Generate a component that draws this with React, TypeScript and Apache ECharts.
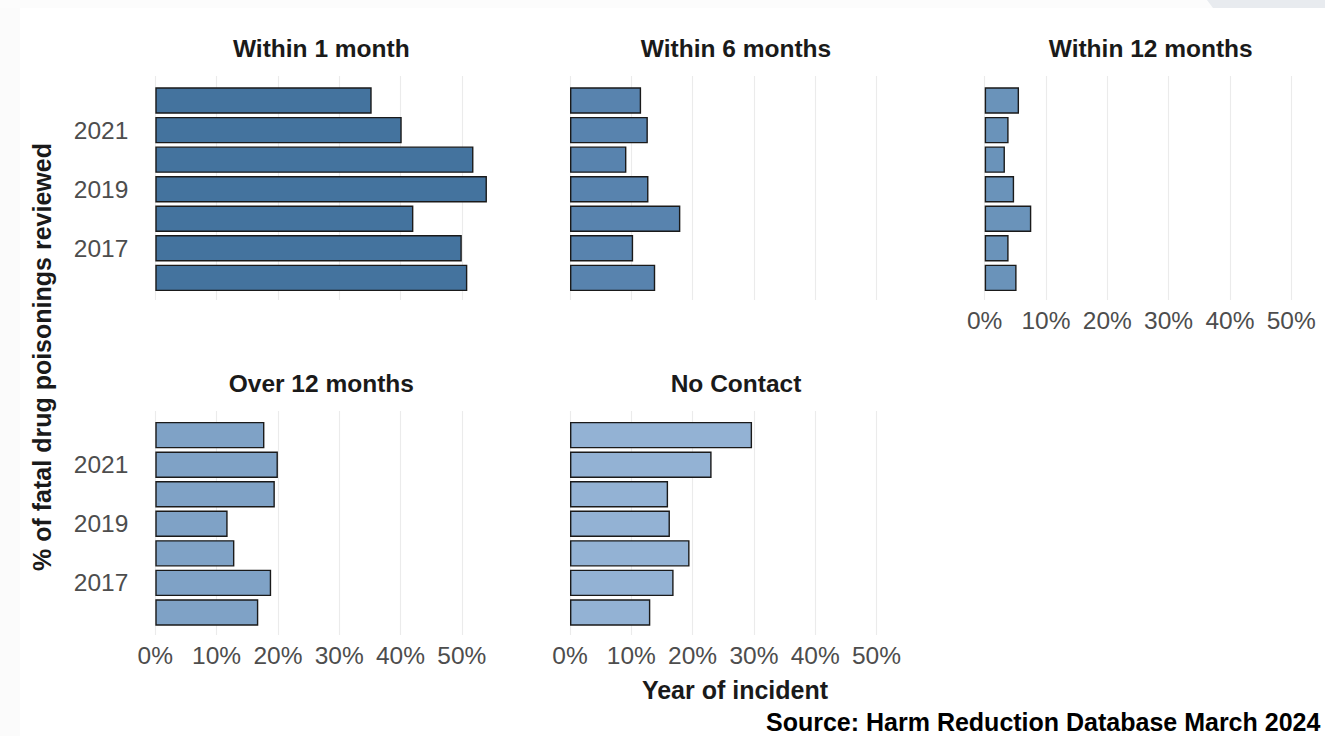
import React, { useEffect, useRef } from "react";
import * as echarts from "echarts";

const years = ["2016", "2017", "2018", "2019", "2020", "2021", "2022"];
const panelTitles = ["Within 1 month", "Within 6 months", "Within 12 months", "Over 12 months", "No Contact"];
const within1Month = [50.9, 50.0, 42.1, 54.1, 51.9, 40.2, 35.3];
const within6Months = [13.9, 10.3, 18.0, 12.8, 9.2, 12.7, 11.6];
const within12Months = [5.2, 3.9, 7.6, 4.8, 3.3, 3.9, 5.6];
const over12Months = [16.8, 18.9, 12.9, 11.8, 19.5, 20.0, 17.8];
const noContact = [13.1, 16.9, 19.5, 16.3, 16.0, 23.1, 29.7];
const panelValues = [within1Month, within6Months, within12Months, over12Months, noContact];
const panelColors = ["#44739E", "#5883AE", "#6A93BA", "#7FA2C6", "#93B2D4"];
const xTicks = [0, 10, 20, 30, 40, 50];

const FONT = "'Liberation Sans', Arial, Helvetica, sans-serif";

export default function App() {
  const ref = useRef<HTMLDivElement>(null);
  useEffect(() => {
    if (!ref.current) return;
    const chart = echarts.init(ref.current, null, { renderer: "svg" });
    const pxPerPct = 6.13;
    const grids: any[] = [];
    const xAxes: any[] = [];
    const yAxes: any[] = [];
    const series: any[] = [];
    const graphics: any[] = [
      { type: "rect", shape: { x: 0, y: 0, width: 20, height: 736 }, style: { fill: "#fbfbfb" }, silent: true, z: -10 },
      { type: "rect", shape: { x: 0, y: 0, width: 1325, height: 8 }, style: { fill: "#fcfcfc" }, silent: true, z: -10 },
      { type: "polygon", shape: { points: [[1207, 0], [1325, 0], [1325, 8], [1213, 8]] }, style: { fill: "#e8ebef" }, silent: true, z: -9 },
    ];
    panelValues.forEach((vals, i) => {
      const col = i % 3;
      const row = Math.floor(i / 3);
      const left = 155.3 + col * 414.7;
      const barTop = row ? 420.4 : 85.8;
      const lineTop = row ? 411 : 76;
      grids.push({ left, top: barTop, width: 60 * pxPerPct, height: 206.8, outerBoundsMode: "none", containLabel: false });
      grids.push({ left, top: lineTop, width: 50 * pxPerPct, height: 224, outerBoundsMode: "none", containLabel: false });
      const showX = i >= 2;
      const showY = col === 0;
      xAxes.push({ gridIndex: 2 * i, type: "value", min: 0, max: 60, show: false });
      xAxes.push({
        gridIndex: 2 * i + 1,
        type: "value",
        min: xTicks[0],
        max: xTicks[xTicks.length - 1],
        interval: 10,
        axisLine: { show: false },
        axisTick: { show: false },
        splitLine: { show: true, lineStyle: { color: "#ebebeb", width: 1.1 } },
        axisLabel: {
          show: showX,
          formatter: "{value}%",
          color: "#4d4d4d",
          fontSize: 24.5,
          fontFamily: FONT,
          margin: 8,
        },
      });
      yAxes.push({
        gridIndex: 2 * i,
        type: "category",
        data: years,
        axisLine: { show: false },
        axisTick: { show: false },
        splitLine: { show: false },
        axisLabel: {
          show: showY,
          interval: (idx: number) => idx % 2 === 1,
          color: "#4d4d4d",
          fontSize: 24.5,
          fontFamily: FONT,
          margin: 27,
        },
      });
      yAxes.push({ gridIndex: 2 * i + 1, type: "value", min: 0, max: 1, show: false });
      series.push({
        type: "bar",
        name: panelTitles[i],
        xAxisIndex: 2 * i,
        yAxisIndex: 2 * i,
        data: vals,
        barWidth: 26.4,
        itemStyle: { color: panelColors[i], borderColor: "#1a1a1a", borderWidth: 1.4 },
        z: 3,
      });
      graphics.push({
        type: "text",
        x: left + 166,
        y: row ? 383.5 : 48.5,
        style: {
          text: panelTitles[i],
          font: `bold 24.5px ${FONT}`,
          fill: "#1a1a1a",
          align: "center",
          verticalAlign: "middle",
        },
      });
    });
    graphics.push({
      type: "text",
      x: 42,
      y: 357,
      rotation: Math.PI / 2,
      style: {
        text: "% of fatal drug poisonings reviewed",
        font: `bold 25px ${FONT}`,
        fill: "#1a1a1a",
        align: "center",
        verticalAlign: "middle",
      },
    });
    graphics.push({
      type: "text",
      x: 735,
      y: 690,
      style: {
        text: "Year of incident",
        font: `bold 25px ${FONT}`,
        fill: "#1a1a1a",
        align: "center",
        verticalAlign: "middle",
      },
    });
    graphics.push({
      type: "text",
      x: 766,
      y: 722,
      style: {
        text: "Source: Harm Reduction Database March 2024",
        font: `bold 25px ${FONT}`,
        fill: "#000000",
        align: "left",
        verticalAlign: "middle",
      },
    });
    chart.setOption({
      animation: false,
      backgroundColor: "#ffffff",
      grid: grids,
      xAxis: xAxes,
      yAxis: yAxes,
      series,
      graphic: graphics,
    });
    return () => chart.dispose();
  }, []);
  return (
    <div
      ref={ref}
      style={{ position: "absolute", left: 0, top: 0, width: 1325, height: 736 }}
    />
  );
}
